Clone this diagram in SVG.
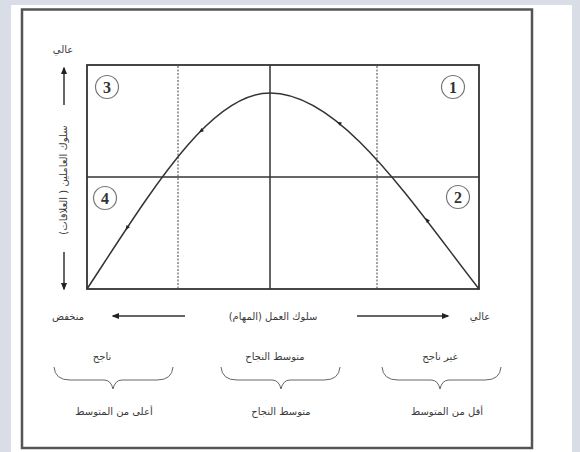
<svg xmlns="http://www.w3.org/2000/svg" width="580" height="452" viewBox="0 0 580 452">
<style>
.t{font-family:"DejaVu Sans","Noto Sans",sans-serif;fill:#3a3a3a;font-size:10px;text-anchor:middle}
.num{font-family:"Liberation Serif","DejaVu Serif",serif;font-weight:bold;font-size:16px;fill:#333;text-anchor:middle}
.circ{fill:none;stroke:#777;stroke-width:1.2}
.box{fill:none;stroke:#333;stroke-width:1.8}
.grid{stroke:#333;stroke-width:1.5}
.dot{stroke:#444;stroke-width:1;stroke-dasharray:2,1.5}
.ax{stroke:#333;stroke-width:1.5;fill:none}
.brace{stroke:#666;stroke-width:1;fill:none}
.tri{fill:#222}
</style>
<defs>
<marker id="ah" viewBox="0 0 10 10" refX="8" refY="5" markerWidth="5" markerHeight="5" orient="auto-start-reverse">
<path d="M0,1 L10,5 L0,9 Z" fill="#222"/>
</marker>
</defs>
<rect x="0" y="0" width="580" height="452" fill="#d9dde6"/>
<rect x="11" y="5" width="561" height="447" fill="#ffffff"/>
<rect x="22" y="9.5" width="510" height="438.5" fill="none" stroke="#555" stroke-width="2.5"/>

<g id="chart">
<rect class="box" x="87" y="65" width="392" height="224"/>
<line class="grid" x1="87" y1="177" x2="479" y2="177"/>
<line class="grid" x1="270" y1="65" x2="270" y2="289"/>
<line class="dot" x1="178" y1="66" x2="178" y2="288"/>
<line class="dot" x1="377" y1="66" x2="377" y2="288"/>
</g>

<g id="connectors">
<path class="ax" d="M87,289 C152,190 210,93 270,93 C340,93 409,199 479,289" stroke-width="1.6"/>
<polygon class="tri" points="2.5,0 -2.2,-2 -2.2,2" transform="translate(127,228) rotate(124)"/>
<polygon class="tri" points="2.5,0 -2.2,-2 -2.2,2" transform="translate(201,131) rotate(141)"/>
<polygon class="tri" points="2.5,0 -2.2,-2 -2.2,2" transform="translate(339,123) rotate(-149)"/>
<polygon class="tri" points="2.5,0 -2.2,-2 -2.2,2" transform="translate(427,220) rotate(-128)"/>
<line class="ax" x1="64" y1="105" x2="64" y2="68" marker-end="url(#ah)"/>
<line class="ax" x1="64" y1="252" x2="64" y2="289" marker-end="url(#ah)"/>
<line class="ax" x1="185" y1="316" x2="113" y2="316" marker-end="url(#ah)"/>
<line class="ax" x1="357" y1="316" x2="448" y2="316" marker-end="url(#ah)"/>
</g>

<g id="q1"><circle class="circ" cx="453" cy="87" r="11.5"/><text class="num" x="453" y="93">1</text></g>
<g id="q2"><circle class="circ" cx="458" cy="197" r="11.5"/><text class="num" x="458" y="203">2</text></g>
<g id="q3"><circle class="circ" cx="107" cy="87" r="11.5"/><text class="num" x="107" y="93">3</text></g>
<g id="q4"><circle class="circ" cx="105" cy="198" r="11.5"/><text class="num" x="105" y="204">4</text></g>

<g id="axis-labels">
<text class="t" x="63" y="53">عالي</text>
<text class="t" transform="translate(67,180) rotate(-90)">سلوك العاملين ( العلاقات)</text>
<text class="t" x="68" y="320">منخفض</text>
<text class="t" x="273" y="320">سلوك العمل (المهام)</text>
<text class="t" x="480" y="320">عالي</text>
</g>

<g id="bottom">
<text class="t" x="102" y="360">ناجح</text>
<text class="t" x="275" y="360">متوسط النجاح</text>
<text class="t" x="440" y="360">غير ناجح</text>
<path class="brace" d="M54,367 Q55,380 70,380 L104,380 Q111,380 113,389 Q115,380 122,380 L157,380 Q172,380 173,367"/>
<path class="brace" d="M221,367 Q222,380 237,380 L272,380 Q279,380 281,389 Q283,380 290,380 L324,380 Q339,380 340,367"/>
<path class="brace" d="M382,367 Q383,380 398,380 L431,380 Q438,380 440,389 Q442,380 449,380 L485,380 Q500,380 501,367"/>
<text class="t" x="114" y="415">أعلى من المتوسط</text>
<text class="t" x="281" y="415">متوسط النجاح</text>
<text class="t" x="447" y="415">أقل من المتوسط</text>
</g>
</svg>
